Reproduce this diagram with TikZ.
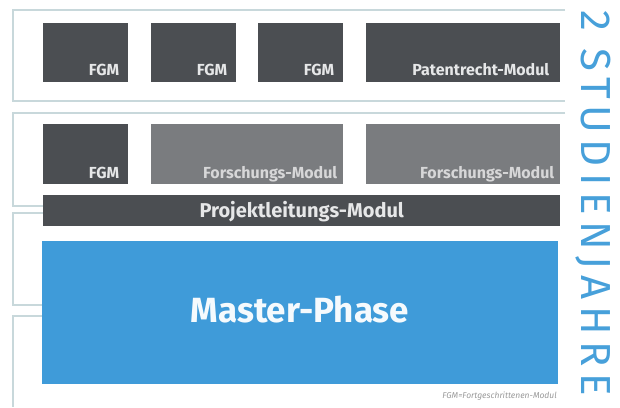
\documentclass[tikz,border=0pt]{standalone}
\usepackage{fontspec}
\setmainfont{Fira Sans}
\newfontfamily\titlefont[LetterSpace=15.5]{Fira Sans}
\definecolor{framec}{HTML}{C8D8DB}
\definecolor{darkbox}{HTML}{4B4E52}
\definecolor{midbox}{HTML}{7A7C7F}
\definecolor{bluebox}{HTML}{3F9BD9}
\definecolor{bluetext}{HTML}{47A0DA}
\definecolor{labelc}{HTML}{E6E7E8}
\definecolor{notec}{HTML}{9A9A9A}
\begin{document}
\begin{tikzpicture}[x=1pt,y=-1pt,
  frameline/.style={draw=framec,line width=1.1pt},
  modbox/.style={rectangle,inner sep=0pt,anchor=north west,fill=darkbox},
  lbl/.style={anchor=base east,inner sep=0pt,text=labelc,font=\fontsize{16}{18}\selectfont\bfseries}]
\useasboundingbox (0,0) rectangle (620,407);
\fill[white] (0,0) rectangle (620,407);
% frames
\draw[frameline] (565,10) -- (13,10) -- (13,101) -- (565,101);
\draw[frameline] (565,113) -- (13,113) -- (13,206) -- (50,206);
\draw[frameline] (50,213) -- (13,213) -- (13,305) -- (50,305);
\draw[frameline] (50,316) -- (13,316) -- (13,407);
% row 1
\node[modbox,minimum width=85pt,minimum height=59pt] (a1) at (43,23) {};
\node[modbox,minimum width=85pt,minimum height=59pt] (a2) at (151,23) {};
\node[modbox,minimum width=85pt,minimum height=59pt] (a3) at (258,23) {};
\node[modbox,minimum width=194pt,minimum height=59pt] (a4) at (366,23) {};
\node[lbl] at ([xshift=-9pt,yshift=7pt]a1.south east) {FGM};
\node[lbl] at ([xshift=-9pt,yshift=7pt]a2.south east) {FGM};
\node[lbl] at ([xshift=-9pt,yshift=7pt]a3.south east) {FGM};
\node[lbl] at ([xshift=-11pt,yshift=7pt]a4.south east) {Patentrecht-Modul};
% row 2
\node[modbox,minimum width=85pt,minimum height=60pt] (b1) at (43,124) {};
\node[modbox,fill=midbox,minimum width=192pt,minimum height=60pt] (b2) at (151,124) {};
\node[modbox,fill=midbox,minimum width=194pt,minimum height=60pt] (b3) at (366,124) {};
\node[lbl] at ([xshift=-9pt,yshift=6pt]b1.south east) {FGM};
\node[lbl,text=labelc!85!gray] at ([xshift=-6pt,yshift=6pt]b2.south east) {Forschungs-Modul};
\node[lbl,text=labelc!85!gray] at ([xshift=-6pt,yshift=6pt]b3.south east) {Forschungs-Modul};
% project module
\node[modbox,minimum width=517pt,minimum height=31pt] (p) at (43,195) {};
\node[inner sep=0pt,anchor=base,text=labelc,font=\fontsize{20}{22}\selectfont\bfseries] at ([yshift=9pt]p.south) {Projektleitungs-Modul};
% master
\node[modbox,fill=bluebox,minimum width=516pt,minimum height=143pt] (m) at (42,241) {};
\node[inner sep=0pt,anchor=base,text=white!95!bluebox,font=\fontsize{35}{40}\selectfont\bfseries] at (300,322) {Master-Phase};
% note
\node[inner sep=0pt,anchor=base east,text=notec,font=\fontsize{8.5}{10}\selectfont\itshape] at (557,398) {FGM=Fortgeschrittenen-Modul};
% vertical title
\node[inner sep=0pt,anchor=base west,rotate=-90,text=bluetext,font=\titlefont\fontsize{42}{46}\selectfont] (t) at (581,10) {2 STUDIENJAHRE};
\end{tikzpicture}
\end{document}
